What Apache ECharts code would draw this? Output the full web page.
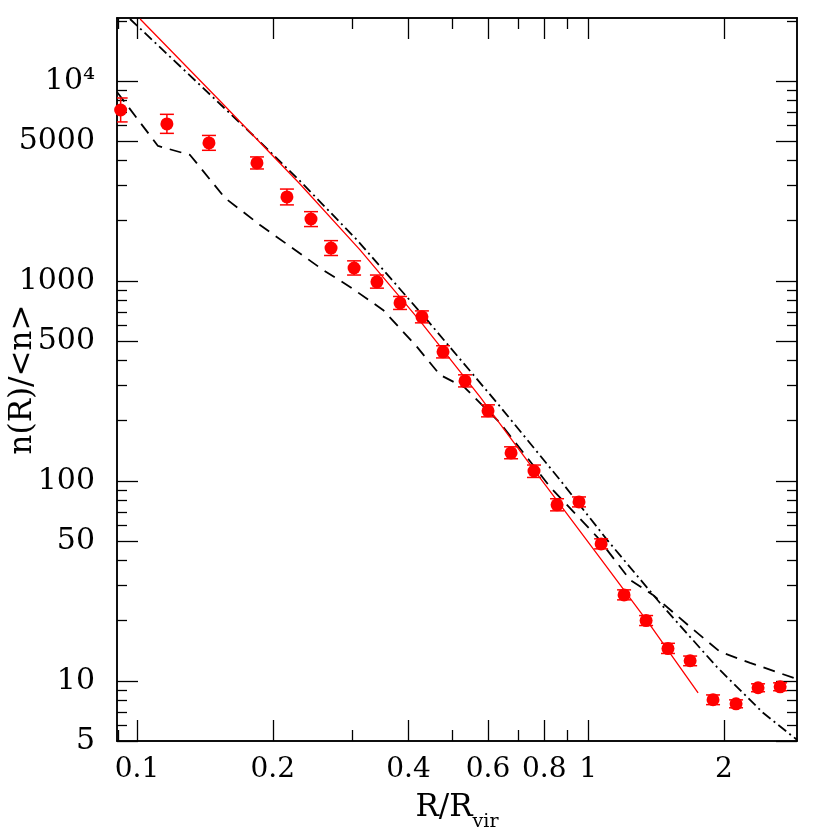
<!DOCTYPE html>
<html><head><meta charset="utf-8">
<script src="https://cdn.jsdelivr.net/npm/echarts@6/dist/echarts.min.js"></script>
<style>html,body{margin:0;padding:0;background:#fff}#c{width:830px;height:830px}</style>
</head><body><div id="c"></div>
<script>
// ---- data ----
const pointsR = [0.092, 0.1165, 0.1444, 0.1845, 0.215, 0.2431, 0.2693, 0.3029, 0.3404, 0.383, 0.4283, 0.477, 0.5337, 0.6002, 0.6751, 0.759, 0.8537, 0.955, 1.069, 1.202, 1.345, 1.504, 1.684, 1.893, 2.129, 2.382, 2.666];
const pointsN = [7160, 6100, 4900, 3890, 2630, 2040, 1460, 1160, 990, 776, 661, 442, 316, 224, 138, 112, 75.9, 78.5, 48.4, 26.9, 20.0, 14.5, 12.6, 8.04, 7.67, 9.23, 9.33];
const errLo = [6240, 5470, 4500, 3630, 2400, 1870, 1340, 1070, 920, 720, 617, 412, 295, 209, 129, 104, 70.8, 74.1, 45.7, 25.4, 18.9, 13.7, 11.9, 7.6, 7.33, 8.82, 8.92];
const errHi = [8220, 6810, 5340, 4170, 2880, 2220, 1590, 1260, 1070, 836, 708, 474, 339, 240, 148, 120, 81.4, 83.1, 51.3, 28.5, 21.2, 15.4, 13.3, 8.5, 8.03, 9.66, 9.77];

const fitR = [0.1016, 0.1528, 0.2298, 0.3122, 0.424, 0.5762, 0.7826, 1.063, 1.372, 1.754];
const fitN = [20420, 7943, 3055, 1429, 631, 263, 103.5, 41.2, 19.05, 8.71];

const dashDotR = [0.0965, 0.1379, 0.1845, 0.2298, 0.3075, 0.4395, 0.6284, 0.867, 1.102, 1.444, 1.932, 2.443, 2.906];
const dashDotN = [20420, 9550, 5129, 3162, 1603, 638, 245.5, 101, 50.7, 24.5, 11.7, 6.92, 5.07];

const dashedR = [0.0903, 0.1113, 0.1311, 0.1567, 0.1874, 0.2585, 0.2967, 0.3511, 0.4176, 0.4695, 0.5337, 0.638, 0.8236, 1.047, 1.239, 1.393, 1.684, 1.962, 2.287, 2.906];
const dashedN = [8810, 4732, 4266, 2600, 1905, 1135, 933, 716, 468, 339, 292, 195, 93.3, 52.5, 32, 26.9, 18.6, 13.96, 12.3, 10.2];

const xMajorTicks = [0.1, 0.2, 0.4, 0.6, 0.8, 1, 2];
const xMinorTicks = [0.091, 0.3, 0.5, 0.7, 0.9];
const yMajorTicks = [5, 10, 50, 100, 500, 1000, 5000, 10000];
const yMinorTicks = [6, 7, 8, 9, 20, 30, 40, 60, 70, 80, 90, 200, 300, 400, 600, 700, 800, 900, 2000, 3000, 4000, 6000, 7000, 8000, 9000, 20000];

const X_MIN = 0.0903, X_MAX = 2.906, Y_MIN = 5, Y_MAX = 20650;
const FONT = 'DejaVu Serif';

function fmt(v) {
  if (v >= 9999) return '10\u2074';
  return String(Math.round(v * 1000) / 1000);
}

function mkX(pos, ticks, len, labels, name) {
  const a = {
    type: 'log', logBase: 10, min: X_MIN, max: X_MAX, position: pos, gridIndex: 0,
    axisLine: { show: true, onZero: false, lineStyle: { color: '#000', width: 1.5 } },
    axisTick: { show: true, inside: true, length: len, customValues: ticks, lineStyle: { color: '#000', width: 1.3 } },
    axisLabel: { show: labels, customValues: ticks, formatter: fmt, margin: 15, color: '#000', fontFamily: FONT, fontSize: 28 },
    splitLine: { show: false }, minorTick: { show: false }, minorSplitLine: { show: false }
  };
  if (name) {
    a.name = '{a|R/R}{b|vir}';
    a.nameLocation = 'middle';
    a.nameGap = 59;
    a.nameMoveOverlap = false;
    a.nameTextStyle = {
      color: '#000', fontFamily: FONT,
      rich: {
        a: { fontSize: 31, fontFamily: FONT, color: '#000', lineHeight: 32, padding: [0, 0, 9, 0], verticalAlign: 'bottom' },
        b: { fontSize: 19, fontFamily: FONT, color: '#000', lineHeight: 20, verticalAlign: 'bottom' }
      }
    };
  }
  return a;
}
function mkY(pos, ticks, len, labels, name) {
  const a = {
    type: 'log', logBase: 10, min: Y_MIN, max: Y_MAX, position: pos, gridIndex: 0,
    axisLine: { show: true, onZero: false, lineStyle: { color: '#000', width: 1.5 } },
    axisTick: { show: true, inside: true, length: len, customValues: ticks, lineStyle: { color: '#000', width: 1.3 } },
    axisLabel: { show: labels, customValues: ticks, formatter: fmt, margin: 22, color: '#000', fontFamily: FONT, fontSize: 30 },
    splitLine: { show: false }, minorTick: { show: false }, minorSplitLine: { show: false }
  };
  if (name) {
    a.name = 'n(R)/<n>';
    a.nameLocation = 'middle';
    a.nameRotate = 90;
    a.nameGap = 79;
    a.nameMoveOverlap = false;
    a.nameTextStyle = { color: '#000', fontFamily: FONT, fontSize: 31 };
  }
  return a;
}

const chart = echarts.init(document.getElementById('c'), null, { renderer: 'canvas' });
chart.setOption({
  backgroundColor: '#fff',
  animation: false,
  grid: { left: 117, right: 33, top: 18, bottom: 89, containLabel: false, outerBoundsMode: 'none' },
  xAxis: [
    mkX('bottom', xMajorTicks, 21, true, true),
    mkX('bottom', xMinorTicks, 11, false, false),
    mkX('top', xMajorTicks, 21, false, false),
    mkX('top', xMinorTicks, 11, false, false)
  ],
  yAxis: [
    mkY('left', yMajorTicks, 21, true, true),
    mkY('left', yMinorTicks, 10, false, false),
    mkY('right', yMajorTicks, 21, false, false),
    mkY('right', yMinorTicks, 10, false, false)
  ],
  series: [
    {
      type: 'line', name: 'dashed', xAxisIndex: 0, yAxisIndex: 0, symbol: 'none', clip: true,
      data: dashedR.map((r, i) => [r, dashedN[i]]),
      lineStyle: { color: '#000', width: 1.8, type: [12, 8] }, z: 2
    },
    {
      type: 'line', name: 'dashdot', xAxisIndex: 0, yAxisIndex: 0, symbol: 'none', clip: true,
      data: dashDotR.map((r, i) => [r, dashDotN[i]]),
      lineStyle: { color: '#000', width: 1.8, type: [10, 4, 2, 4] }, z: 2
    },
    {
      type: 'line', name: 'fit', xAxisIndex: 0, yAxisIndex: 0, symbol: 'none', clip: true,
      data: fitR.map((r, i) => [r, fitN[i]]),
      lineStyle: { color: '#ff0000', width: 1.3 }, z: 3
    },
    {
      type: 'custom', name: 'err', xAxisIndex: 0, yAxisIndex: 0, clip: true,
      data: pointsR.map((r, i) => [r, errLo[i], errHi[i]]),
      encode: { x: 0, y: [1, 2] },
      renderItem: function (params, api) {
        const x = api.value(0);
        const lo = api.coord([x, api.value(1)]);
        const hi = api.coord([x, api.value(2)]);
        const w = 7;
        const st = { stroke: '#ff0000', lineWidth: 1.5 };
        return {
          type: 'group', children: [
            { type: 'line', shape: { x1: lo[0], y1: lo[1], x2: hi[0], y2: hi[1] }, style: st },
            { type: 'line', shape: { x1: lo[0] - w, y1: lo[1], x2: lo[0] + w, y2: lo[1] }, style: st },
            { type: 'line', shape: { x1: hi[0] - w, y1: hi[1], x2: hi[0] + w, y2: hi[1] }, style: st }
          ]
        };
      }, z: 4
    },
    {
      type: 'scatter', name: 'points', xAxisIndex: 0, yAxisIndex: 0,
      data: pointsR.map((r, i) => [r, pointsN[i]]),
      symbol: 'circle', symbolSize: 13, itemStyle: { color: '#ff0000', opacity: 1 }, z: 5
    }
  ]
});
</script></body></html>
